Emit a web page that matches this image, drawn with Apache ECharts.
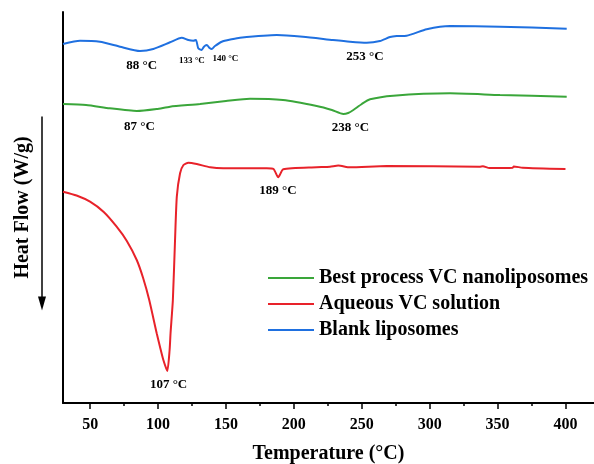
<!DOCTYPE html>
<html lang="en">
<head>
<meta charset="UTF-8">
<title>DSC</title>
<script src="https://cdn.jsdelivr.net/npm/echarts@6/dist/echarts.min.js"></script>
<style>
  html, body { margin: 0; padding: 0; background: #fff; }
  #chart { width: 594px; height: 464px; }
</style>
</head>
<body>
<div id="chart"></div>
<script>
var tempBest = [30, 47, 64.4, 84.3, 99, 108.8, 130.9, 150, 167.7, 192, 216.8, 228, 236.4, 240, 243.8, 250, 256.1, 273.2, 315, 351.8, 400.9];
var flowBest = [299, 298, 294.7, 292, 294, 296.3, 299, 302, 304.3, 303, 297, 293, 289, 290, 293, 299, 303.7, 307.3, 309.7, 308, 306.3];

var tempAqueous = [30, 40, 49.9, 60, 69.5, 77, 84.3, 89, 93.5, 99, 101.4, 103.9, 106.8, 108.5, 109.2, 110.9, 112.5, 113.8, 116.2, 118.7, 122.3, 128.5, 138.4, 148, 180, 185, 188.5, 192.2, 216.8, 226.6, 232.7, 241.3, 268.3, 336.7, 339.2, 344, 361.2, 361.9, 368.5, 400];
var flowAqueous = [211.3, 207.5, 201.3, 191, 176.3, 162, 143, 125, 103, 69.7, 56.3, 43, 32, 53, 70, 103, 163, 206.3, 229.7, 238, 240.3, 239, 235.7, 234.7, 234.7, 234, 225.7, 233.7, 235.7, 236.3, 237.5, 235.7, 237, 236.3, 236.8, 235, 235.3, 236.5, 235.3, 234];

var tempBlank = [30, 42.5, 57.2, 72, 86.7, 96.5, 108.8, 117.4, 122.3, 126, 127.9, 129.6, 132.1, 133.8, 135.8, 138.2, 139.5, 141.9, 146.9, 154.2, 160.3, 187.4, 206.7, 228.8, 241.3, 253.6, 263.4, 270.8, 275.7, 283, 297.8, 315, 351.8, 400.9];
var flowBlank = [359, 362.3, 361.3, 356.3, 352, 354, 360.7, 365.3, 363, 362.3, 363, 354.7, 353, 356.3, 358, 354.7, 354, 357, 361.3, 363.7, 365.3, 368, 366.3, 363, 361.3, 360.3, 362, 366, 367, 367.3, 373.7, 377, 376.3, 374.3];

// peak temperatures marked on each curve
var peaksBest = [87, 238];
var peaksAqueous = [107, 189];
var peaksBlank = [88, 133, 140, 253];

var xTicks = [50, 100, 150, 200, 250, 300, 350, 400];
var xMinorTicks = [75, 125, 175, 225, 275, 325, 375];

var names = ['Best process VC nanoliposomes', 'Aqueous VC solution', 'Blank liposomes'];

function pairs(t, v) {
  var out = [];
  for (var i = 0; i < t.length; i++) out.push([t[i], v[i]]);
  return out;
}

function valueAt(t, v, T) {
  for (var i = 1; i < t.length; i++) {
    if (T <= t[i]) {
      var f = (T - t[i - 1]) / (t[i] - t[i - 1]);
      return v[i - 1] + f * (v[i] - v[i - 1]);
    }
  }
  return v[v.length - 1];
}

var serif = 'Liberation Serif';
var labelOffsets = {
  87: [-1, 16], 238: [5, 14],
  107: [1, 16], 189: [-1, 14],
  88: [0, 15], 133: [-11, 12], 140: [13, 10], 253: [-1, 14]
};

function peakMarks(t, v, peaks) {
  return {
    symbol: 'circle',
    symbolSize: 0,
    silent: true,
    data: peaks.map(function (T) {
      var small = (T === 133 || T === 140);
      return {
        coord: [T, valueAt(t, v, T)],
        value: T + ' °C',
        label: {
          show: true,
          position: 'inside',
          offset: labelOffsets[T],
          formatter: T + ' °C',
          color: '#000',
          fontFamily: serif,
          fontWeight: 'bold',
          fontSize: small ? 9 : 13
        }
      };
    })
  };
}

function curve(name, color, t, v, peaks) {
  return {
    name: name,
    type: 'line',
    data: pairs(t, v),
    smooth: 0.2,
    showSymbol: false,
    symbol: 'none',
    lineStyle: { color: color, width: 2 },
    itemStyle: { color: color },
    markPoint: peakMarks(t, v, peaks),
    z: 3
  };
}

var myChart = echarts.init(document.getElementById('chart'));

var option = {
  backgroundColor: '#fff',
  animation: false,
  grid: { left: 63, right: 0, top: 12, bottom: 61, outerBoundsMode: 'none' },
  legend: {
    orient: 'vertical',
    left: 263,
    top: 263,
    icon: 'rect',
    itemWidth: 46,
    itemHeight: 2,
    itemGap: 6,
    data: names,
    textStyle: { fontFamily: serif, fontWeight: 'bold', fontSize: 20, color: '#000' }
  },
  xAxis: [{
    type: 'value',
    min: 30,
    max: 421,
    name: 'Temperature (°C)',
    nameLocation: 'middle',
    nameGap: 41,
    nameTextStyle: { fontFamily: serif, fontWeight: 'bold', fontSize: 20, color: '#000' },
    axisLine: { show: true, onZero: false, lineStyle: { color: '#000', width: 2 } },
    axisTick: { show: true, length: 6, customValues: xTicks, lineStyle: { color: '#000', width: 1.5 } },
    axisLabel: { customValues: xTicks, margin: 14, fontFamily: serif, fontWeight: 'bold', fontSize: 16, color: '#000' },
    splitLine: { show: false }
  }, {
    type: 'value',
    min: 30,
    max: 421,
    position: 'bottom',
    axisLine: { show: false },
    axisTick: { show: true, length: 3, customValues: xMinorTicks, lineStyle: { color: '#000', width: 1.5 } },
    axisLabel: { show: false },
    splitLine: { show: false }
  }],
  yAxis: {
    type: 'value',
    min: 0,
    max: 391,
    name: 'Heat Flow (W/g)',
    nameLocation: 'middle',
    nameRotate: 90,
    nameGap: 30,
    nameTextStyle: { fontFamily: serif, fontWeight: 'bold', fontSize: 20, color: '#000' },
    axisLine: { show: true, lineStyle: { color: '#000', width: 2 } },
    axisTick: { show: false },
    axisLabel: { show: false },
    splitLine: { show: false }
  },
  graphic: [{
    type: 'group',
    left: 38,
    top: 114,
    children: [
      { type: 'line', shape: { x1: 4.5, y1: 0, x2: 4.5, y2: 184 }, style: { stroke: '#000', lineWidth: 1.5 } },
      { type: 'polygon', shape: { points: [[0.5, 180], [8.5, 180], [4.5, 194]] }, style: { fill: '#000' } }
    ]
  }],
  series: [
    curve(names[0], '#3aa63a', tempBest, flowBest, peaksBest),
    curve(names[1], '#e8222a', tempAqueous, flowAqueous, peaksAqueous),
    curve(names[2], '#1f70e0', tempBlank, flowBlank, peaksBlank)
  ]
};

myChart.setOption(option);
</script>
</body>
</html>
